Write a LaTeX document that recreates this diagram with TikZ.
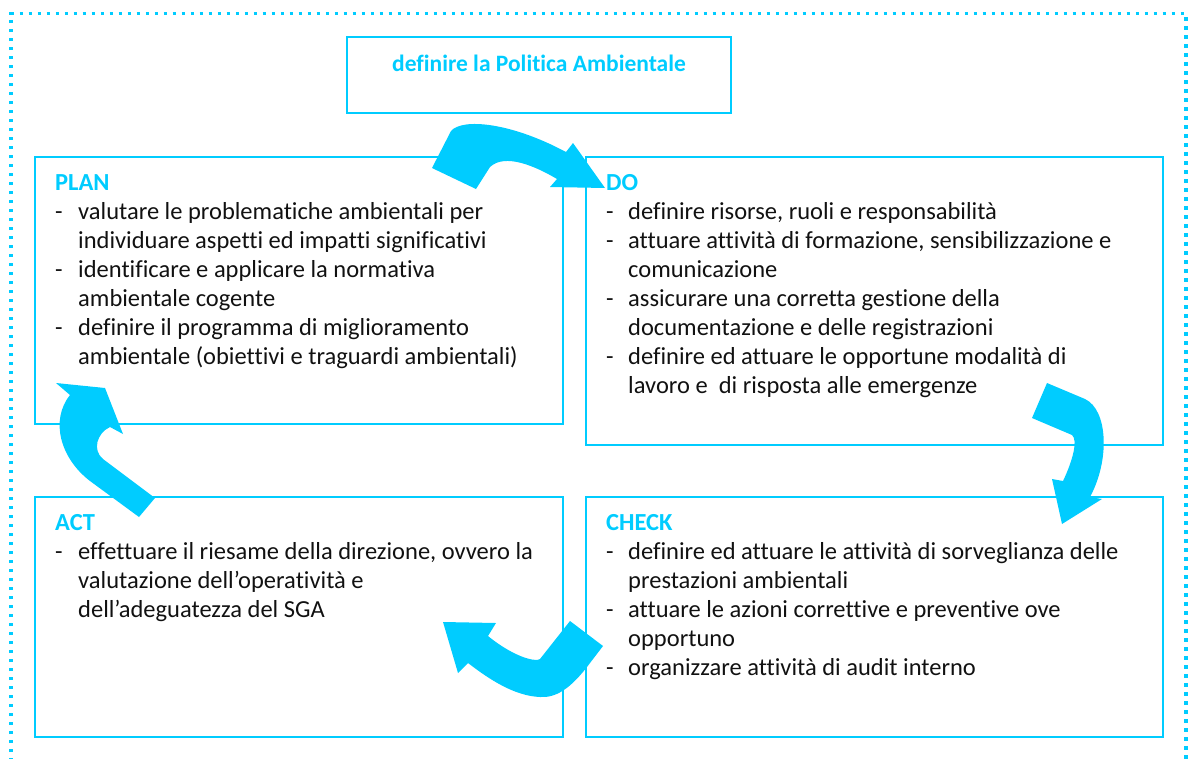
\documentclass[tikz,border=0pt]{standalone}
\usepackage{fontspec}
\setmainfont{Carlito}[Ligatures=NoCommon]
\usepackage{array}
\usetikzlibrary{positioning}

\definecolor{ciano}{HTML}{00CCFF}
\definecolor{testo}{HTML}{111111}

% titolo di fase dentro l'elenco
\newcommand{\fase}[1]{\multicolumn{2}{@{}l@{}}{\textcolor{ciano}{\bfseries #1}}}

\begin{document}
\begin{tikzpicture}[
    x=1pt, y=-1pt,
    riquadro/.style={rectangle, draw=ciano, line width=2pt, inner sep=0pt},
    elenco/.style={anchor=base west, inner sep=0pt, align=left, text=testo, font=\fontsize{24.5}{29}\selectfont},
    freccia/.style={fill=ciano, draw=none},
    cornice/.style={draw=ciano, line width=3.5pt, dash pattern=on 3.5pt off 5.5pt}
]
\useasboundingbox (0,0) rectangle (1188,758);

% Cornice tratteggiata
\draw[cornice] (11,770) -- (11,13.5) -- (1186,13.5) -- (1186,770);

% Politica ambientale
\node[riquadro, minimum width=384pt, minimum height=76pt] (politica) at (539,75) {};
\node[font=\fontsize{23.5}{28}\selectfont\bfseries, text=ciano, inner sep=0pt] (politicatesto) at (539,63) {definire la Politica Ambientale};

% Riquadri PDCA
\node[riquadro, minimum width=528pt, minimum height=267pt] (plan) at (299,290.5) {};
\node[riquadro, minimum width=577pt, minimum height=288pt] (do) at (874.5,301) {};
\node[riquadro, minimum width=528pt, minimum height=240pt] (act) at (299,617) {};
\node[riquadro, minimum width=577pt, minimum height=240pt] (check) at (874.5,617) {};

% PLAN
\node[elenco] (plantesto) at (55,190) {\begin{tabular}[t]{@{}p{23pt}@{}l@{}}
\fase{PLAN}\\
- & valutare le problematiche ambientali per\\
  & individuare aspetti ed impatti significativi\\
- & identificare e applicare la normativa\\
  & ambientale cogente\\
- & definire il programma di miglioramento\\
  & ambientale (obiettivi e traguardi ambientali)
\end{tabular}};

% DO
\node[elenco] (dotesto) at (606,190) {\begin{tabular}[t]{@{}p{22pt}@{}l@{}}
\fase{DO}\\
- & definire risorse, ruoli e responsabilità\\
- & attuare attività di formazione, sensibilizzazione e\\
  & comunicazione\\
- & assicurare una corretta gestione della\\
  & documentazione e delle registrazioni\\
- & definire ed attuare le opportune modalità di\\
  & lavoro e\ \ di risposta alle emergenze
\end{tabular}};

% ACT
\node[elenco] (acttesto) at (55,530) {\begin{tabular}[t]{@{}p{23pt}@{}l@{}}
\fase{ACT}\\
- & effettuare il riesame della direzione, ovvero la\\
  & valutazione dell’operatività e\\
  & dell’adeguatezza del SGA
\end{tabular}};

% CHECK
\node[elenco] (checktesto) at (606,530) {\begin{tabular}[t]{@{}p{22pt}@{}l@{}}
\fase{CHECK}\\
- & definire ed attuare le attività di sorveglianza delle\\
  & prestazioni ambientali\\
- & attuare le azioni correttive e preventive ove\\
  & opportuno\\
- & organizzare attività di audit interno
\end{tabular}};

% Frecce del ciclo
\fill[freccia] (432,168) -- (451,131) .. controls (462,118) and (510,122) .. (566,152)
    -- (573,143) -- (605,188) -- (550,187) -- (557,179)
    .. controls (535,166) and (505,153) .. (490,167) -- (476,189) -- cycle;
\fill[freccia] (1047,383) -- (1085,399) .. controls (1108,410) and (1110,460) .. (1090,497)
    -- (1102,499) -- (1062,524) -- (1052,479) -- (1063,481)
    .. controls (1073,460) and (1078,440) .. (1072,435) -- (1032,418) -- cycle;
\fill[freccia] (570,621) -- (603,646) -- (590,663) .. controls (570,690) and (555,698) .. (540,697)
    .. controls (515,696) and (490,680) .. (468,663) -- (458,673) -- (443,622) -- (496,623)
    -- (488,636) .. controls (505,650) and (525,660) .. (537,660) -- (540,659) -- cycle;
\fill[freccia] (155,498) -- (139,517) -- (90,481) .. controls (60,458) and (50,420) .. (70,395)
    -- (56,383) -- (105,388) -- (123,434) -- (110,427)
    .. controls (97,433) and (92,450) .. (103,459) -- cycle;

\end{tikzpicture}
\end{document}
